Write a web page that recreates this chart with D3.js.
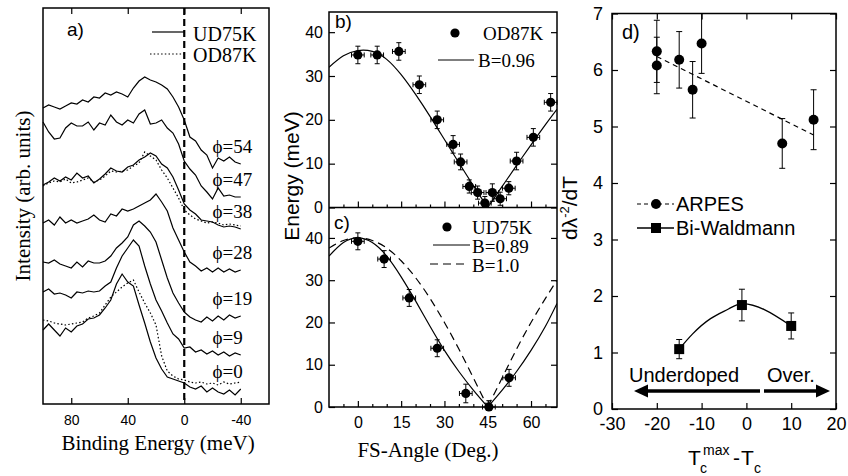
<!DOCTYPE html>
<html>
<head>
<meta charset="utf-8">
<script src="https://cdn.jsdelivr.net/npm/d3@7"></script>
<style>
  body { margin: 0; background: #fff; }
  svg { display: block; }
</style>
</head>
<body>
<svg id="fig" width="848" height="476"></svg>
<script>
// ---------- data ----------
// a) EDCs, binding energy grid (meV) and intensities (arb. units, offset spectra)
const energies = [100,96,92,88,84,80,76,72,68,64,60,56,52,48,44,40,36,32,28,24,20,16,12,8,4,0,-4,-8,-12,-16,-20,-24,-28,-32,-36,-40];
const ud54 = [296,299,297,295,298,301,300,304,302,307,306,311,309,312,310,307,316,323,327,324,322,319,315,307,297,284,267,263,254,249,236,246,243,247,242,240];
const ud47 = [282,272,265,266,276,281,278,278,282,274,281,279,289,282,279,284,281,290,294,280,281,284,276,271,260,243,235,229,218,212,205,216,208,209,207,207];
const ud38 = [219,222,226,223,227,224,231,226,228,221,225,230,236,233,232,237,239,244,247,251,248,240,236,227,214,200,194,190,184,183,182,179,177,178,177,175];
const od38 = [218,221,223,222,225,221,222,224,226,222,224,228,233,232,233,234,238,241,252,248,244,234,226,216,206,194,189,185,183,181,182,181,179,180,179,178];
const ud28 = [181,184,179,187,181,184,181,183,185,189,184,182,190,188,195,193,195,198,201,204,210,202,193,176,164,152,142,138,133,136,132,136,132,135,132,134];
const ud19 = [142,141,144,140,138,136,142,137,143,141,141,143,148,156,161,167,179,183,178,172,162,144,126,111,101,92,87,84,82,87,83,88,84,89,86,88];
const ud9  = [112,115,110,111,109,106,112,111,113,112,113,118,122,136,148,156,164,158,138,120,104,93,81,70,65,56,57,52,54,50,53,49,52,48,51,49];
const ud0  = [74,80,74,68,76,72,78,80,85,86,89,96,104,120,130,122,118,99,81,62,46,35,27,25,23,21,17,15,18,12,16,12,10,14,9,15];
const od0  = [84,83,81,80,79,80,81,82,86,88,91,99,107,112,117,121,124,112,101,91,79,48,33,28,25,24,22,21,22,20,21,19,22,20,21,22];
const udSpectra = [ud54, ud47, ud38, ud28, ud19, ud9, ud0];
const odSpectra = [od38, od0];
const phiLabels = ["ϕ=54","ϕ=47","ϕ=38","ϕ=28","ϕ=19","ϕ=9","ϕ=0"];
const aTicks = [80, 40, 0, -40];

// b) OD87K gap vs FS angle
const odAngle = [0,6.7,14.2,21.3,27.5,33,35.6,38.6,41.5,44,46.6,49.3,52.3,55,60.8,66.8];
const odGap   = [34.8,34.8,35.6,28,20,14.4,10.4,4.8,3.4,1,3.4,2,4.4,10.6,16,24];
const odErrY  = [2,2,2,2,2,2,1.8,1.5,1.5,1.5,2,1.5,1.5,2,2,2];
const odErrX  = [2.2,2.2,2.2,2.2,2.2,2.2,2.2,2.2,2.2,2.2,2.2,2.2,2.2,2.2,2.2,2.2];
const fitAngle = [-10,-5,0,5,10,15,20,25,30,35,40,45,50,55,60,65,69];
const fitB096  = [32,34.6,35.8,35.6,33.8,30.3,25.8,20.8,15.5,10.2,5,0,4.8,9.6,14.3,18.9,22.4];

// c) UD75K gap vs FS angle
const udAngle = [0,9.1,17.8,27.5,37.4,45.4,52.4];
const udGap   = [39.2,35,25.8,13.9,3.2,0,6.9];
const udErrY  = [2,2,2,2,2.2,1.5,2];
const udErrX  = [2.2,2.2,2.2,2.2,2.2,2.2,2.2];
const fitB089 = [35.7,38.9,40,38.9,35.7,30.8,25.1,19.1,13.4,8.4,4,0,4,8.4,13.4,19.1,24.5];
const fitB10  = [37.6,39.4,40,39.4,37.6,34.6,30.6,25.7,20,13.7,6.9,0,6.9,13.7,20,25.7,30];
const bcTicks = [0, 15, 30, 45, 60];
const bcMinor = [-5,5,10,20,25,35,40,50,55,65];

// d) superfluid density slope
const arpesX   = [-20,-20,-15,-12,-10,8,15];
const arpesY   = [6.33,6.08,6.18,5.65,6.47,4.70,5.12];
const arpesErr = [0.55,0.5,0.5,0.5,0.53,0.44,0.53];
const trendX   = [-20, 15];
const trendY   = [6.24, 4.85];
const biX   = [-15,-1,10];
const biY   = [1.06,1.84,1.47];
const biErr = [0.17,0.28,0.23];
const biCurveX = [-15,-12,-8,-4,-1,4,10];
const biCurveY = [1.06,1.33,1.6,1.77,1.86,1.76,1.47];
const dXTicks = [-30,-20,-10,0,10,20];
const dYTicks = [0,1,2,3,4,5,6,7];

// ---------- setup ----------
const SERIF = "'Liberation Serif','Times New Roman',serif";
const SANS = "'Liberation Sans',Arial,Helvetica,sans-serif";
const svg = d3.select("#fig");
svg.append("rect").attr("width", 848).attr("height", 476).attr("fill", "#fff");

function styleAxis(g, size, family){
  g.select(".domain").remove();
  g.selectAll(".tick line").attr("stroke", "#000").attr("stroke-width", 1.2);
  g.selectAll(".tick text").attr("fill", "#000")
    .attr("font-size", size).attr("font-family", family || SANS);
}
function frame(x0, y0, x1, y1){
  svg.append("rect").attr("x", x0).attr("y", y0)
    .attr("width", x1 - x0).attr("height", y1 - y0)
    .attr("fill", "none").attr("stroke", "#000").attr("stroke-width", 1.5);
}
function label(txt, x, y, size, family, anchor){
  return svg.append("text").attr("x", x).attr("y", y).text(txt)
    .attr("font-size", size).attr("font-family", family)
    .attr("text-anchor", anchor || "start").attr("fill", "#000");
}
const fmt = d => String(d);

// ---------- panel a ----------
const xA = d3.scaleLinear().domain([100, -60]).range([43, 269]);
const yA = d3.scaleLinear().domain([0, 396]).range([404, 8]);

const specLine = d3.line().x((d, i) => xA(energies[i])).y(d => yA(d));
svg.append("g").selectAll("path.ud").data(udSpectra).join("path")
  .attr("d", specLine).attr("fill", "none").attr("stroke", "#000").attr("stroke-width", 1.2);
svg.append("g").selectAll("path.od").data(odSpectra).join("path")
  .attr("d", specLine).attr("fill", "none").attr("stroke", "#000")
  .attr("stroke-width", 1.2).attr("stroke-dasharray", "1.5,2.2");

svg.append("line").attr("x1", xA(0)).attr("x2", xA(0)).attr("y1", 8).attr("y2", 404)
  .attr("stroke", "#000").attr("stroke-width", 2.2).attr("stroke-dasharray", "7,4");

// phi labels sit just above each spectrum's tail
svg.append("g").selectAll("text").data(udSpectra).join("text")
  .attr("x", xA(-20)).attr("y", d => yA(d[d.length - 1]) - 11)
  .text((d, i) => phiLabels[i])
  .attr("font-size", 19).attr("font-family", SERIF).attr("fill", "#000");

frame(43, 8, 269, 404);
styleAxis(svg.append("g").attr("transform", "translate(0,404)")
  .call(d3.axisBottom(xA).tickValues(aTicks).tickSize(-6).tickPadding(11).tickFormat(fmt)), 14);
styleAxis(svg.append("g").attr("transform", "translate(0,8)")
  .call(d3.axisTop(xA).tickValues(aTicks).tickSize(-6).tickFormat("")), 14);

// legend a
svg.append("line").attr("x1", 152).attr("x2", 184).attr("y1", 32).attr("y2", 32)
  .attr("stroke", "#000").attr("stroke-width", 1.2);
svg.append("line").attr("x1", 150).attr("x2", 184).attr("y1", 54).attr("y2", 54)
  .attr("stroke", "#000").attr("stroke-width", 1.2).attr("stroke-dasharray", "1.5,2.2");
label("UD75K", 193, 41, 20, SERIF);
label("OD87K", 193, 62, 20, SERIF);
label("a)", 67, 36, 19, SANS);

label("Binding Energy (meV)", 158, 450, 21, SERIF, "middle");
label("Intensity (arb. units)", 0, 0, 21, SERIF, "middle")
  .attr("transform", "translate(30,196) rotate(-90)");

// ---------- panels b, c ----------
const xBC = d3.scaleLinear().domain([-10, 69]).range([329, 557]);
const yB = d3.scaleLinear().domain([0, 44.6]).range([207.5, 12]);
const yC = d3.scaleLinear().domain([0, 47.2]).range([407, 207.5]);

svg.append("defs").append("clipPath").attr("id", "clipBC")
  .append("rect").attr("x", 329).attr("y", 12).attr("width", 228).attr("height", 395);

function fitPath(vals, y, dash, width){
  const pts = fitAngle.map((a, i) => [a, vals[i]]);
  const k = vals.indexOf(0);
  const line = d3.line().x(d => xBC(d[0])).y(d => y(d[1])).curve(d3.curveNatural);
  [pts.slice(0, k + 1), pts.slice(k)].forEach(seg => {
    svg.append("path").attr("d", line(seg)).attr("fill", "none")
      .attr("stroke", "#000").attr("stroke-width", width || 1.2)
      .attr("stroke-dasharray", dash || null).attr("clip-path", "url(#clipBC)");
  });
}
fitPath(fitB096, yB);
fitPath(fitB10, yC, "8,5");
fitPath(fitB089, yC);

function errPoints(xs, ys, exs, eys, y){
  const g = svg.append("g").attr("stroke", "#000").attr("stroke-width", 1);
  xs.forEach((a, i) => {
    const cx = xBC(a), cy = y(ys[i]);
    const y1 = y(ys[i] + eys[i]), y2 = y(Math.max(0, ys[i] - eys[i]));
    const x1 = xBC(a - exs[i]), x2 = xBC(a + exs[i]);
    g.append("line").attr("x1", cx).attr("x2", cx).attr("y1", y1).attr("y2", y2);
    g.append("line").attr("x1", cx - 2.5).attr("x2", cx + 2.5).attr("y1", y1).attr("y2", y1);
    g.append("line").attr("x1", cx - 2.5).attr("x2", cx + 2.5).attr("y1", y2).attr("y2", y2);
    g.append("line").attr("x1", x1).attr("x2", x2).attr("y1", cy).attr("y2", cy);
    g.append("line").attr("x1", x1).attr("x2", x1).attr("y1", cy - 2.5).attr("y2", cy + 2.5);
    g.append("line").attr("x1", x2).attr("x2", x2).attr("y1", cy - 2.5).attr("y2", cy + 2.5);
  });
  svg.append("g").selectAll("circle").data(xs).join("circle")
    .attr("cx", d => xBC(d)).attr("cy", (d, i) => y(ys[i])).attr("r", 4.6).attr("fill", "#000");
}
errPoints(odAngle, odGap, odErrX, odErrY, yB);
errPoints(udAngle, udGap, udErrX, udErrY, yC);

frame(329, 12, 557, 407);
svg.append("line").attr("x1", 329).attr("x2", 557).attr("y1", 207.5).attr("y2", 207.5)
  .attr("stroke", "#000").attr("stroke-width", 1.5);

[[yB, [0,10,20,30,40]], [yC, [0,10,20,30,40]]].forEach(([y, tv]) => {
  styleAxis(svg.append("g").attr("transform", "translate(329,0)")
    .call(d3.axisLeft(y).tickValues(tv).tickSize(-6).tickPadding(6).tickFormat(fmt)), 16);
  styleAxis(svg.append("g").attr("transform", "translate(557,0)")
    .call(d3.axisRight(y).tickValues(tv).tickSize(-6).tickFormat("")), 16);
});
styleAxis(svg.append("g").attr("transform", "translate(0,407)")
  .call(d3.axisBottom(xBC).tickValues(bcTicks).tickSize(-6).tickPadding(10).tickFormat(fmt)), 16);
styleAxis(svg.append("g").attr("transform", "translate(0,407)")
  .call(d3.axisBottom(xBC).tickValues(bcMinor).tickSize(-3).tickFormat("")), 16);
styleAxis(svg.append("g").attr("transform", "translate(0,207.5)")
  .call(d3.axisBottom(xBC).tickValues(bcTicks).tickSize(-6).tickFormat("")), 16);
styleAxis(svg.append("g").attr("transform", "translate(0,207.5)")
  .call(d3.axisBottom(xBC).tickValues(bcMinor).tickSize(-3).tickFormat("")), 16);

// legends b, c
svg.append("circle").attr("cx", 455).attr("cy", 33).attr("r", 4.6).attr("fill", "#000");
label("OD87K", 483, 40, 19, SERIF);
svg.append("line").attr("x1", 438).attr("x2", 474).attr("y1", 60).attr("y2", 60)
  .attr("stroke", "#000").attr("stroke-width", 1);
label("B=0.96", 478, 67, 19, SERIF);
label("b)", 335, 28, 19, SANS);

svg.append("circle").attr("cx", 447).attr("cy", 227).attr("r", 4.6).attr("fill", "#000");
label("UD75K", 472, 234, 19, SERIF);
svg.append("line").attr("x1", 433).attr("x2", 470).attr("y1", 245).attr("y2", 245)
  .attr("stroke", "#000").attr("stroke-width", 1);
label("B=0.89", 472, 253, 19, SERIF);
svg.append("line").attr("x1", 430).attr("x2", 468).attr("y1", 264).attr("y2", 264)
  .attr("stroke", "#000").attr("stroke-width", 1.1).attr("stroke-dasharray", "8,5");
label("B=1.0", 472, 272, 19, SERIF);
label("c)", 334, 229, 19, SANS);

label("FS-Angle (Deg.)", 428, 457, 21, SERIF, "middle");
label("Energy (meV)", 0, 0, 21, SANS, "middle")
  .attr("transform", "translate(299,176) rotate(-90)");

// ---------- panel d ----------
const xD = d3.scaleLinear().domain([-30, 20]).range([612, 836]);
const yD = d3.scaleLinear().domain([0, 7]).range([409, 13.5]);

svg.append("path")
  .attr("d", d3.line().x(d => xD(d[0])).y(d => yD(d[1]))(trendX.map((v, i) => [v, trendY[i]])))
  .attr("fill", "none").attr("stroke", "#000").attr("stroke-width", 1.2).attr("stroke-dasharray", "5,4");
svg.append("path")
  .attr("d", d3.line().x(d => xD(d[0])).y(d => yD(d[1])).curve(d3.curveNatural)(biCurveX.map((v, i) => [v, biCurveY[i]])))
  .attr("fill", "none").attr("stroke", "#000").attr("stroke-width", 1.3);

function vErr(xs, ys, es){
  const g = svg.append("g").attr("stroke", "#000").attr("stroke-width", 1);
  xs.forEach((v, i) => {
    const cx = xD(v), y1 = yD(ys[i] + es[i]), y2 = yD(ys[i] - es[i]);
    g.append("line").attr("x1", cx).attr("x2", cx).attr("y1", y1).attr("y2", y2);
    g.append("line").attr("x1", cx - 3).attr("x2", cx + 3).attr("y1", y1).attr("y2", y1);
    g.append("line").attr("x1", cx - 3).attr("x2", cx + 3).attr("y1", y2).attr("y2", y2);
  });
}
vErr(arpesX, arpesY, arpesErr);
vErr(biX, biY, biErr);
svg.append("g").selectAll("circle").data(arpesX).join("circle")
  .attr("cx", d => xD(d)).attr("cy", (d, i) => yD(arpesY[i])).attr("r", 5).attr("fill", "#000");
svg.append("g").selectAll("rect").data(biX).join("rect")
  .attr("x", d => xD(d) - 5).attr("y", (d, i) => yD(biY[i]) - 5)
  .attr("width", 10).attr("height", 10).attr("fill", "#000");

frame(612, 13.5, 836, 409);
styleAxis(svg.append("g").attr("transform", "translate(612,0)")
  .call(d3.axisLeft(yD).tickValues(dYTicks).tickSize(-6).tickPadding(9).tickFormat(fmt)), 18);
styleAxis(svg.append("g").attr("transform", "translate(836,0)")
  .call(d3.axisRight(yD).tickValues(dYTicks).tickSize(-6).tickFormat("")), 18);
styleAxis(svg.append("g").attr("transform", "translate(0,409)")
  .call(d3.axisBottom(xD).tickValues(dXTicks).tickSize(-6).tickPadding(8).tickFormat(fmt)), 18);
styleAxis(svg.append("g").attr("transform", "translate(0,13.5)")
  .call(d3.axisTop(xD).tickValues(dXTicks).tickSize(-6).tickFormat("")), 18);

// legend d
svg.append("line").attr("x1", 637).attr("x2", 674).attr("y1", 204).attr("y2", 204)
  .attr("stroke", "#000").attr("stroke-width", 1.2).attr("stroke-dasharray", "4,3");
svg.append("circle").attr("cx", 656).attr("cy", 204).attr("r", 5).attr("fill", "#000");
label("ARPES", 676, 211, 20, SANS);
svg.append("line").attr("x1", 637).attr("x2", 674).attr("y1", 228).attr("y2", 228)
  .attr("stroke", "#000").attr("stroke-width", 1.3);
svg.append("rect").attr("x", 651).attr("y", 223).attr("width", 10).attr("height", 10).attr("fill", "#000");
label("Bi-Waldmann", 676, 235, 20, SANS);
label("d)", 622, 39, 20, SANS);

// doping arrows
label("Underdoped", 629, 382, 20, SANS);
label("Over.", 767, 382, 20, SANS);
const arrows = svg.append("g").attr("stroke", "#000").attr("fill", "#000");
arrows.append("line").attr("x1", 760).attr("x2", 642).attr("y1", 391).attr("y2", 391).attr("stroke-width", 3.5);
arrows.append("path").attr("d", "M634,391 L648,384.5 L648,397.5 Z").attr("stroke", "none");
arrows.append("line").attr("x1", 764).attr("x2", 821).attr("y1", 391).attr("y2", 391).attr("stroke-width", 3.5);
arrows.append("path").attr("d", "M830,391 L816,384.5 L816,397.5 Z").attr("stroke", "none");

// axis labels d
const yl = label("", 0, 0, 21, SANS, "middle").attr("transform", "translate(577,208) rotate(-90)");
yl.append("tspan").text("dλ");
yl.append("tspan").text("-2").attr("font-size", 13).attr("dy", -8);
yl.append("tspan").text("/dT").attr("dy", 8);

label("T", 688, 465, 21, SANS);
label("c", 700, 473, 14, SANS);
label("max", 703, 455, 14, SANS);
label("-", 733, 465, 21, SANS);
label("T", 741, 465, 21, SANS);
label("c", 754, 473, 14, SANS);
</script>
</body>
</html>
